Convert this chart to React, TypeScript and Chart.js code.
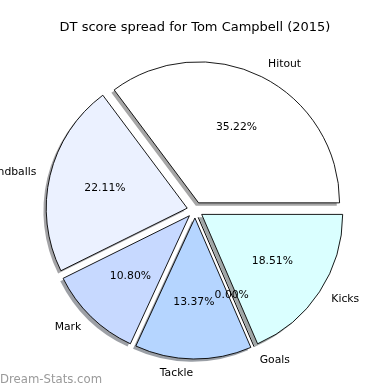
import React, { useEffect, useRef } from "react";
import { Chart, registerables } from "chart.js";

Chart.register(...registerables);

// Counter-clockwise from 3 o'clock (as in the reference)
const categories = ["Hitout", "Handballs", "Mark", "Tackle", "Goals", "Kicks"];
const percentValues = [35.22, 22.11, 10.8, 13.37, 0.0, 18.51];
const sliceColors = ["#ffffff", "#ebf1ff", "#c7d9ff", "#b5d5ff", "#ffffff", "#daffff"];
const titleText = "DT score spread for Tom Campbell (2015)";
const watermarkText = "Dream-Stats.com";

const EXPLODE = 8;
const RADIUS = 141;
const SHADOW_DX = -2.8;
const SHADOW_DY = 2.8;
const FONT = "DejaVu Sans";

function hexToRgb(h: string) {
  const n = parseInt(h.slice(1), 16);
  return [(n >> 16) & 255, (n >> 8) & 255, n & 255];
}

const piePlugin = {
  id: "mplPie",
  beforeDatasetsDraw(chart: any) {
    const ctx = chart.ctx as CanvasRenderingContext2D;
    const meta = chart.getDatasetMeta(0);
    const arcs = meta.data as any[];
    const colors = chart.data.datasets[0].backgroundColor as string[];
    // shadows
    arcs.forEach((arc, i) => {
      const { x, y, startAngle, endAngle, outerRadius } = arc.getProps(
        ["x", "y", "startAngle", "endAngle", "outerRadius"], true);
      if (endAngle - startAngle <= 0) return;
      const mid = (startAngle + endAngle) / 2;
      const cx = x + EXPLODE * Math.cos(mid) + SHADOW_DX;
      const cy = y + EXPLODE * Math.sin(mid) + SHADOW_DY;
      const [r, g, b] = hexToRgb(colors[i]);
      ctx.save();
      ctx.fillStyle = `rgba(${Math.round(r * 0.3)},${Math.round(g * 0.3)},${Math.round(b * 0.3)},0.5)`;
      ctx.beginPath();
      ctx.moveTo(cx, cy);
      ctx.arc(cx, cy, outerRadius, startAngle, endAngle);
      ctx.closePath();
      ctx.fill();
      ctx.restore();
    });
    // wedges
    arcs.forEach((arc) => {
      const { x, y, startAngle, endAngle, outerRadius } = arc.getProps(
        ["x", "y", "startAngle", "endAngle", "outerRadius"], true);
      const mid = (startAngle + endAngle) / 2;
      const dx = EXPLODE * Math.cos(mid);
      const dy = EXPLODE * Math.sin(mid);
      if (endAngle - startAngle <= 0) {
        ctx.save();
        ctx.strokeStyle = "#000";
        ctx.lineWidth = 1;
        ctx.beginPath();
        ctx.moveTo(x + dx, y + dy);
        ctx.lineTo(x + dx + outerRadius * Math.cos(mid), y + dy + outerRadius * Math.sin(mid));
        ctx.stroke();
        ctx.restore();
        return;
      }
      ctx.save();
      ctx.translate(dx, dy);
      arc.draw(ctx);
      ctx.restore();
    });
    return false;
  },
  afterDraw(chart: any) {
    const ctx = chart.ctx as CanvasRenderingContext2D;
    const meta = chart.getDatasetMeta(0);
    const arcs = meta.data as any[];
    const labels = chart.data.labels as string[];
    const vals = chart.data.datasets[0].data as number[];
    ctx.save();
    ctx.fillStyle = "#000";
    ctx.font = `10.8px "${FONT}"`;
    ctx.textBaseline = "middle";
    arcs.forEach((arc, i) => {
      const { x, y, startAngle, endAngle, outerRadius } = arc.getProps(
        ["x", "y", "startAngle", "endAngle", "outerRadius"], true);
      const mid = (startAngle + endAngle) / 2;
      const c = Math.cos(mid);
      const s = Math.sin(mid);
      const ex = x + EXPLODE * c;
      const ey = y + EXPLODE * s;
      // category label
      ctx.textAlign = c > 0 ? "left" : "right";
      ctx.fillText(labels[i], ex + 1.1 * outerRadius * c, ey + 1.1 * outerRadius * s);
      // percentage
      ctx.textAlign = "center";
      ctx.fillText(vals[i].toFixed(2) + "%", ex + 0.6 * outerRadius * c, ey + 0.6 * outerRadius * s);
    });
    // title
    ctx.font = `13px "${FONT}"`;
    ctx.textAlign = "center";
    ctx.textBaseline = "alphabetic";
    ctx.fillText(titleText, 195, 31);
    // watermark
    ctx.fillStyle = "#9a9a9a";
    ctx.font = `11.7px "${FONT}"`;
    ctx.textAlign = "left";
    ctx.textBaseline = "middle";
    ctx.fillText(watermarkText, 0, 379.5);
    ctx.restore();
  },
};

export default function App() {
  const ref = useRef<HTMLCanvasElement | null>(null);
  useEffect(() => {
    if (!ref.current) return;
    const order = categories.map((_, i) => i).reverse();
    const chart = new Chart(ref.current, {
      type: "pie",
      data: {
        labels: order.map((i) => categories[i]),
        datasets: [
          {
            data: order.map((i) => percentValues[i]),
            backgroundColor: order.map((i) => sliceColors[i]),
            borderColor: "#000000",
            borderWidth: 0.9,
            borderJoinStyle: "miter",
          } as any,
        ],
      },
      options: {
        animation: false,
        responsive: false,
        devicePixelRatio: 1,
        rotation: 90,
        radius: RADIUS,
        layout: { padding: { left: 45, right: 45, top: 60, bottom: 30 } },
        plugins: {
          legend: { display: false },
          title: { display: false },
          tooltip: { enabled: false },
        },
      } as any,
      plugins: [piePlugin],
    });
    return () => chart.destroy();
  }, []);
  return (
    <div style={{ position: "fixed", left: 0, top: 0, width: 390, height: 390, background: "#fff" }}>
      <canvas ref={ref} width={390} height={390} style={{ width: 390, height: 390, display: "block" }} />
    </div>
  );
}
